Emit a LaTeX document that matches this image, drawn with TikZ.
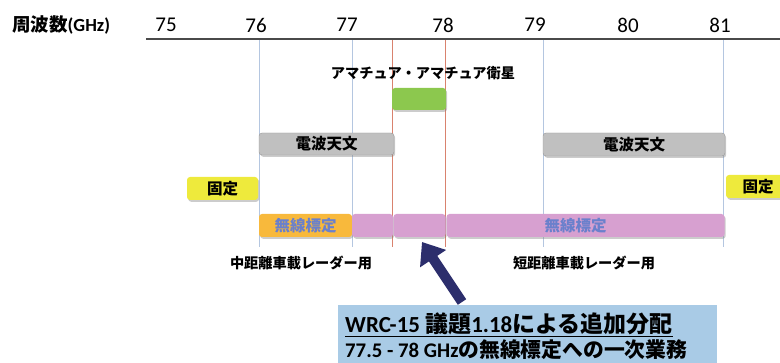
\documentclass[tikz,border=0pt]{standalone}
\usepackage{fontspec}
\setmainfont{Noto Sans CJK JP}
\newfontfamily\lat{Carlito}
\usetikzlibrary{arrows.meta,shadows}
\definecolor{axisc}{HTML}{4A4A4A}
\definecolor{vline}{HTML}{B4C6E0}
\definecolor{rline}{HTML}{D9826E}
\definecolor{greenb}{HTML}{8CC84E}
\definecolor{grayb}{HTML}{C0C0C0}
\definecolor{yellowb}{HTML}{EEEA3C}
\definecolor{orangeb}{HTML}{F8B93C}
\definecolor{pinkb}{HTML}{D7A0D0}
\definecolor{blueb}{HTML}{A9CBE6}
\definecolor{arrowc}{HTML}{2C2E6C}
\definecolor{radtext}{HTML}{6A80CC}
\begin{document}
\begin{tikzpicture}[x=1pt,y=-1pt,
  band/.style={rounded corners=3pt, inner sep=0pt, font=\bfseries\fontsize{15.5}{15.5}\selectfont,
    drop shadow={shadow xshift=1.2pt, shadow yshift=-1.8pt, opacity=0.4}},
  tick/.style={font=\lat\fontsize{21}{21}\selectfont, inner sep=0pt},
  lbl/.style={font=\bfseries\fontsize{14.2}{14.2}\selectfont, inner sep=0pt},
  vl/.style={vline, line width=0.8pt},
  rl/.style={rline, line width=0.8pt}]
\clip (0,0) rectangle (780,363);
% axis
\coordinate (axL) at (146,39);
\coordinate (axR) at (780,39);
\node[font=\bfseries\fontsize{18.5}{18.5}\selectfont, inner sep=0pt, anchor=west] (title) at (12,25) {周波数{\lat\bfseries(GHz)}};
\node[tick] (t75) at (166,25) {75};
\node[tick] (t76) at (256,25) {76};
\node[tick] (t77) at (347,25) {77};
\node[tick] (t78) at (443,25) {78};
\node[tick] (t79) at (535,25) {79};
\node[tick] (t80) at (628,25) {80};
\node[tick] (t81) at (720,25) {81};
% vertical lines
\coordinate (v76a) at (259,39); \coordinate (v76b) at (259,247);
\coordinate (v77a) at (352,39); \coordinate (v77b) at (352,247);
\coordinate (v79a) at (543,39); \coordinate (v79b) at (543,247);
\coordinate (v81a) at (723,39); \coordinate (v81b) at (723,247);
\coordinate (r1a) at (392.5,39); \coordinate (r1b) at (392.5,247);
\coordinate (r2a) at (445.5,39); \coordinate (r2b) at (445.5,247);
\draw[vl] (v76a) -- (v76b);
\draw[vl] (v77a) -- (v77b);
\draw[vl] (v79a) -- (v79b);
\draw[vl] (v81a) -- (v81b);
\draw[rl] (r1a) -- (r1b);
\draw[rl] (r2a) -- (r2b);
\draw[axisc, line width=1.4pt] (axL) -- (axR);
% amateur
\node[lbl] (amlbl) at (423,73) {アマチュア・アマチュア衛星};
\node[band, fill=greenb, minimum width=54pt, minimum height=22pt] (green) at (419,99) {};
% radio astronomy
\node[band, fill=grayb, draw=gray!80, minimum width=135pt, minimum height=22pt] (ra1) at (326.5,144) {電波天文};
\node[band, fill=grayb, draw=gray!80, minimum width=182pt, minimum height=23pt] (ra2) at (634,144.5) {電波天文};
% fixed
\node[band, fill=yellowb, minimum width=71pt, minimum height=23pt] (fx1) at (222.5,188.5) {固定};
\node[band, fill=yellowb, minimum width=64pt, minimum height=23pt] (fx2) at (758,186.5) {固定};
% radiolocation
\node[band, fill=orangeb, minimum width=93pt, minimum height=23pt, text=radtext] (rl0) at (305.5,225.5) {無線標定};
\node[band, fill=pinkb, minimum width=41pt, minimum height=23pt] (rl1) at (372.5,225.5) {};
\node[band, fill=pinkb, minimum width=52pt, minimum height=23pt] (rl2) at (419.5,225.5) {};
\node[band, fill=pinkb, minimum width=278pt, minimum height=23pt, text=radtext, text width=278pt, align=left] (rl3) at (585.5,225.5) {\hspace*{98pt}無線標定};
\node[lbl] (mid) at (301,263) {中距離車載レーダー用};
\node[lbl] (short) at (584,263) {短距離車載レーダー用};
% blue box
\node[fill=blueb, minimum width=379pt, minimum height=70pt, inner sep=0pt] (wrc) at (527.5,340) {};
\node[font=\bfseries\fontsize{23}{23}\selectfont, inner sep=0pt, anchor=west] (wrc1) at (345,325)
  {\underline{{\lat\bfseries WRC-15 }議題{\lat\bfseries 1.18}による追加分配}};
\node[font=\bfseries\fontsize{20.8}{20.8}\selectfont, inner sep=0pt, anchor=west] (wrc2) at (345,350)
  {{\lat\bfseries 77.5 - 78 GHz}の無線標定への一次業務};
% arrow
\coordinate (arT) at (462,302);
\coordinate (arH) at (422,242);
\draw[arrowc, line width=10pt, -{Triangle[length=20pt,width=30pt]}] (arT) -- (arH);
\end{tikzpicture}
\end{document}
